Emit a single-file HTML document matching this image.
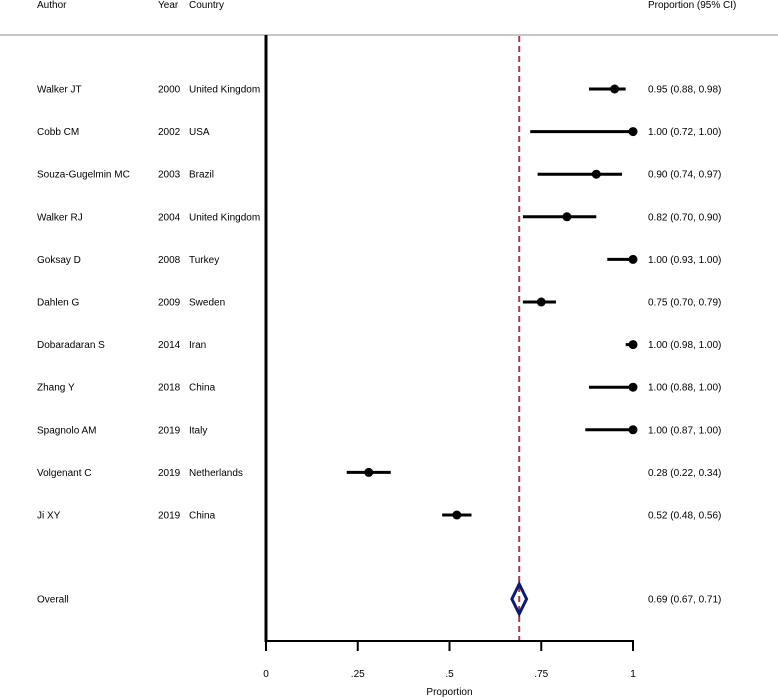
<!DOCTYPE html>
<html><head><meta charset="utf-8"><style>
body{margin:0;background:#fff;}
svg{display:block;font-family:"Liberation Sans",Arial,sans-serif;}
text{font-size:10px;fill:#000;}
</style></head><body>
<svg id="chart" width="778" height="698" viewBox="0 0 778 698" xmlns="http://www.w3.org/2000/svg">
<text x="37" y="8">Author</text>
<text x="158" y="8">Year</text>
<text x="189" y="8">Country</text>
<text x="648" y="8">Proportion (95% CI)</text>
<rect x="0" y="34" width="778" height="2" fill="#c8c8c8"/>
<g id="marks"></g>
</svg>
<script>
const authors=["Walker JT","Cobb CM","Souza-Gugelmin MC","Walker RJ","Goksay D","Dahlen G","Dobaradaran S","Zhang Y","Spagnolo AM","Volgenant C","Ji XY"];
const years=["2000","2002","2003","2004","2008","2009","2014","2018","2019","2019","2019"];
const countries=["United Kingdom","USA","Brazil","United Kingdom","Turkey","Sweden","Iran","China","Italy","Netherlands","China"];
const est=[0.95,1.00,0.90,0.82,1.00,0.75,1.00,1.00,1.00,0.28,0.52];
const lo=[0.88,0.72,0.74,0.70,0.93,0.70,0.98,0.88,0.87,0.22,0.48];
const hi=[0.98,1.00,0.97,0.90,1.00,0.79,1.00,1.00,1.00,0.34,0.56];
const overall=[0.69,0.67,0.71];
const ticks=[0,0.25,0.5,0.75,1];
const tickLabels=["0",".25",".5",".75","1"];

const NS="http://www.w3.org/2000/svg";
const g=document.getElementById('marks');
const X=v=>266+v*367;
const Y=i=>89+i*42.6;
const fmt=v=>v.toFixed(2);
function mk(t,a){const e=document.createElementNS(NS,t);for(const k in a)e.setAttribute(k,a[k]);g.appendChild(e);return e;}
// axes
let e=mk('line',{x1:266,y1:35,x2:266,y2:642,stroke:'#000','stroke-width':3});


e=mk('line',{x1:264.5,y1:641,x2:634,y2:641,stroke:'#000','stroke-width':2});


ticks.forEach((t,i)=>{
  let l=mk('line',{x1:X(t),y1:641,x2:X(t),y2:651,stroke:'#000','stroke-width':2});
  
  
  let tx=mk('text',{x:X(t),y:677,'text-anchor':'middle'});tx.textContent=tickLabels[i];
  
  
});
e=mk('text',{x:X(0.5),y:695,'text-anchor':'middle'});e.textContent='Proportion';


// overall dashed line
e=mk('line',{x1:X(overall[0]),y1:36,x2:X(overall[0]),y2:640,stroke:'#a33a4a','stroke-width':2,'stroke-dasharray':'6,4'});


// studies
authors.forEach((a,i)=>{
  const y=Y(i);
  let t=mk('text',{x:37,y:y+3.5});t.textContent=a;
  
  
  t=mk('text',{x:158,y:y+3.5});t.textContent=years[i];
  
  
  t=mk('text',{x:189,y:y+3.5});t.textContent=countries[i];
  
  
  let l=mk('line',{x1:X(lo[i]),y1:y,x2:X(hi[i]),y2:y,stroke:'#000','stroke-width':3});
  
  
  let c=mk('circle',{cx:X(est[i]),cy:y,r:4.5,fill:'#000'});
  
  
  t=mk('text',{x:648,y:y+3.5});t.textContent=fmt(est[i])+' ('+fmt(lo[i])+', '+fmt(hi[i])+')';
  
  
});
// overall
const oy=599;
e=mk('text',{x:37,y:oy+3.5});e.textContent='Overall';


e=mk('polygon',{points:`${X(overall[1])},${oy} ${X(overall[0])},${oy-15} ${X(overall[2])},${oy} ${X(overall[0])},${oy+15}`,fill:'none',stroke:'#0d1a6e','stroke-width':3});


e=mk('text',{x:648,y:oy+3.5});e.textContent=fmt(overall[0])+' ('+fmt(overall[1])+', '+fmt(overall[2])+')';


</script>
</body></html>
